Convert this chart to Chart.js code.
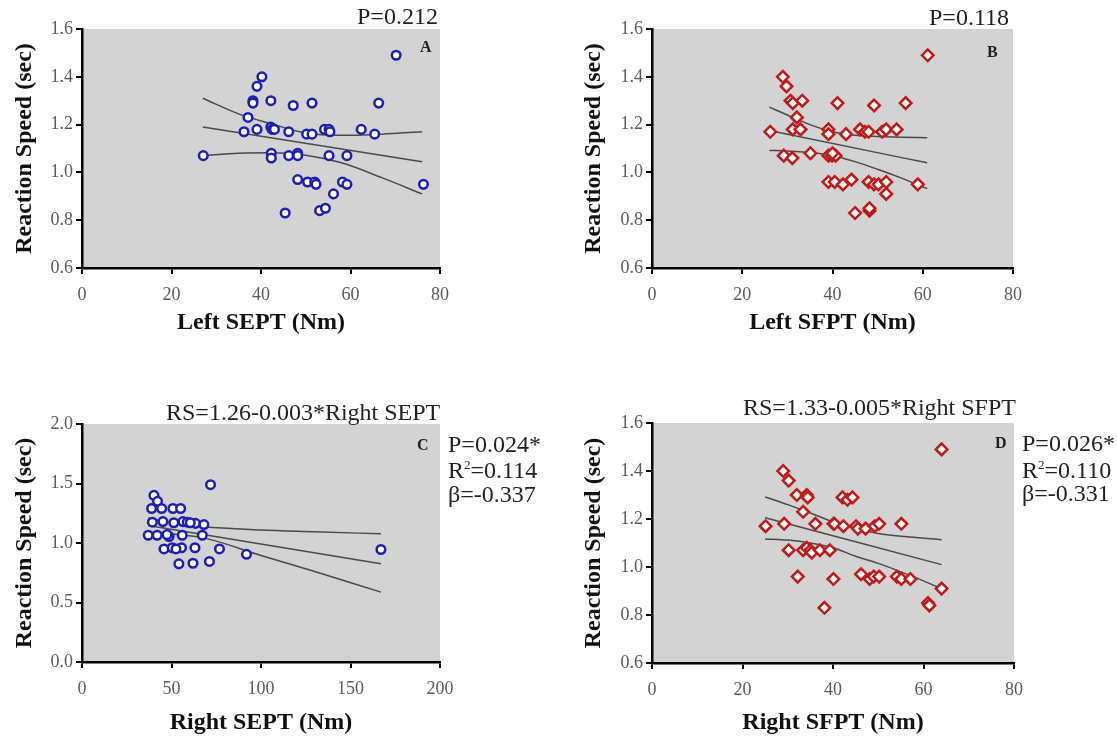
<!DOCTYPE html>
<html><head><meta charset="utf-8">
<script src="https://cdn.jsdelivr.net/npm/chart.js@4/dist/chart.umd.min.js"></script>
<style>
body{margin:0;background:#fff;width:1117px;height:742px;position:relative;overflow:hidden;}
canvas{position:absolute;}
.t{position:absolute;font-family:"Liberation Serif",serif;font-size:24px;color:#222;white-space:nowrap;line-height:1;}
.k{position:absolute;font-family:"Liberation Serif",serif;font-size:16px;font-weight:bold;color:#222;line-height:1;}
.sup{font-size:13px;position:relative;top:-9px;}
</style></head><body>
<canvas id="cA" width="558" height="345" style="left:0;top:0"></canvas>
<canvas id="cB" width="559" height="345" style="left:558px;top:0"></canvas>
<canvas id="cC" width="558" height="371" style="left:0;top:371px"></canvas>
<canvas id="cD" width="559" height="371" style="left:558px;top:371px"></canvas>

<div class="t" style="left:357px;top:4px">P=0.212</div>
<div class="k" style="left:420px;top:39px">A</div>
<div class="t" style="left:929px;top:5px">P=0.118</div>
<div class="k" style="left:987px;top:44px">B</div>
<div class="t" style="left:166px;top:400px">RS=1.26-0.003*Right SEPT</div>
<div class="k" style="left:417px;top:437px">C</div>
<div class="t" style="left:448px;top:432px">P=0.024*</div>
<div class="t" style="left:448px;top:458px">R<span class="sup">2</span>=0.114</div>
<div class="t" style="left:448px;top:482px">β=-0.337</div>
<div class="t" style="left:743px;top:395px">RS=1.33-0.005*Right SFPT</div>
<div class="k" style="left:995px;top:435px">D</div>
<div class="t" style="left:1022px;top:431px">P=0.026*</div>
<div class="t" style="left:1022px;top:458px">R<span class="sup">2</span>=0.110</div>
<div class="t" style="left:1022px;top:481px">β=-0.331</div>

<script>
// ---------- Panel A: Left SEPT ----------
const aX = [27.1,36.2,37.1,38.2,38.2,39.1,40.2,39.1,42.2,42.2,42.5,43.0,42.3,42.3,46.2,46.2,47.2,48.2,48.2,48.2,45.4,50.2,51.4,51.4,50.4,52.0,52.3,53.1,54.4,54.2,55.2,55.4,55.2,56.2,58.2,59.2,59.2,62.4,65.4,66.3,70.2,76.3];
const aY = [1.07,1.17,1.23,1.30,1.29,1.36,1.40,1.18,1.30,1.19,1.18,1.18,1.08,1.06,1.17,1.07,1.28,1.08,1.07,0.97,0.83,1.16,1.16,1.29,0.96,0.96,0.95,0.84,0.85,1.18,1.18,1.17,1.07,0.91,0.96,0.95,1.07,1.18,1.16,1.29,1.49,0.95];
const aFitX = [27, 76];
const aFitY = [1.19, 1.045];
const aBandX = [27, 35, 42, 50, 58, 67, 76];
const aUpY = [1.31, 1.245, 1.205, 1.165, 1.155, 1.16, 1.17];
const aLoY = [1.07, 1.08, 1.082, 1.072, 1.04, 0.978, 0.91];

// ---------- Panel B: Left SFPT ----------
const bX = [26.2,29.0,29.8,29.2,31.1,30.7,31.2,33.3,32.1,31.2,32.9,35.1,39.1,39.1,39.1,39.9,40.7,40.0,41.1,39.1,40.5,42.3,43.0,44.2,45.0,46.1,47.2,48.0,48.0,48.2,48.2,49.2,49.2,50.2,51.0,51.9,51.9,51.9,54.2,56.2,58.9,61.1];
const bY = [1.17,1.40,1.36,1.07,1.06,1.30,1.29,1.30,1.23,1.18,1.18,1.08,1.18,1.16,1.07,1.07,1.07,1.08,1.29,0.96,0.96,0.95,1.16,0.97,0.83,1.18,1.17,1.17,0.96,0.84,0.85,1.28,0.95,0.95,1.17,1.18,0.96,0.91,1.18,1.29,0.95,1.49];
const bFitX = [26, 61];
const bFitY = [1.175, 1.04];
const bBandX = [26, 30, 35, 40, 45, 50, 55, 61];
const bUpY = [1.273, 1.24, 1.20, 1.17, 1.155, 1.15, 1.147, 1.145];
const bLoY = [1.092, 1.09, 1.083, 1.07, 1.045, 1.013, 0.978, 0.932];

// ---------- Panel C: Right SEPT ----------
const cX = [40.2,42.2,38.9,44.5,50.8,55.1,39.3,45.2,51.3,56.4,58.8,63.4,68.1,37.0,42.0,48.6,56.0,67.2,45.8,50.4,55.6,63.1,76.8,91.9,54.1,62.0,71.2,71.8,167,47.5,60.5,52.5];
const cY = [1.40,1.35,1.29,1.29,1.29,1.29,1.175,1.18,1.17,1.18,1.175,1.165,1.155,1.065,1.065,1.055,1.065,1.065,0.95,0.96,0.96,0.96,0.95,0.905,0.825,0.83,0.845,1.49,0.945,1.07,1.17,0.95];
const cFitX = [37, 167];
const cFitY = [1.148, 0.825];
const cBandX = [37, 50, 68, 100, 130, 167];
const cUpY = [1.21, 1.17, 1.136, 1.11, 1.095, 1.077];
const cLoY = [1.09, 1.075, 1.043, 0.895, 0.76, 0.587];

// ---------- Panel D: Right SFPT ----------
const dX = [25.1,29.0,30.2,29.2,30.2,32.0,34.2,34.4,33.4,32.2,33.4,34.2,35.0,35.3,36.1,37.1,38.1,39.3,40.1,40.3,40.1,42.1,43.2,44.3,42.3,45.1,45.5,46.2,47.2,48.1,49.2,50.2,49.0,50.2,55.1,54.1,55.1,57.1,61.0,61.3,64.0,64.0];
const dY = [1.17,1.40,1.36,1.18,1.07,1.30,1.30,1.29,1.23,0.96,1.07,1.08,1.07,1.06,1.18,1.07,0.83,1.07,1.18,1.18,0.95,1.29,1.28,1.29,1.17,1.17,1.16,0.97,1.16,0.95,1.17,1.18,0.96,0.96,1.18,0.96,0.95,0.95,0.85,0.84,1.49,0.91];
const dFitX = [25, 64];
const dFitY = [1.205, 1.01];
const dBandX = [25, 30, 35, 40, 45, 50, 57, 64];
const dUpY = [1.292, 1.26, 1.225, 1.188, 1.16, 1.14, 1.125, 1.114];
const dLoY = [1.117, 1.112, 1.10, 1.08, 1.045, 1.015, 0.965, 0.91];

// ---------- tick labels ----------
const ticks80 = [0, 20, 40, 60, 80];
const ticks200 = [0, 50, 100, 150, 200];
const ticksRS16 = [0.6, 0.8, 1.0, 1.2, 1.4, 1.6];
const ticksRS20 = [0.0, 0.5, 1.0, 1.5, 2.0];

const yTitle = 'Reaction Speed (sec)';

const pts = (xs, ys) => xs.map((x, i) => ({x: x, y: ys[i]}));

const bgPlugin = {
  id: 'bg',
  beforeDraw(chart) {
    const {ctx, chartArea: a} = chart;
    ctx.save();
    ctx.fillStyle = '#d3d3d3';
    ctx.fillRect(a.left, a.top, a.right - a.left, a.bottom - a.top);
    ctx.restore();
  }
};

function lineDs(xs, ys) {
  return {type: 'scatter', data: pts(xs, ys), showLine: true, pointRadius: 0,
    borderColor: '#4a4a4a', borderWidth: 1.5, cubicInterpolationMode: 'monotone', fill: false};
}

function panel(o) {
  const tickFont = {family: '"Liberation Serif", serif', size: 18};
  const titleFont = {family: '"Liberation Serif", serif', size: 24, weight: 'bold'};
  new Chart(document.getElementById(o.id), {
    type: 'scatter',
    data: {
      datasets: [
        {data: pts(o.xs, o.ys), pointStyle: o.style, pointRadius: o.r, pointHoverRadius: o.r,
         borderColor: o.color, backgroundColor: '#ffffff', pointBorderWidth: 2.5, borderWidth: 2.5},
        lineDs(o.fitX, o.fitY),
        lineDs(o.bandX, o.upY),
        lineDs(o.bandX, o.loY)
      ]
    },
    options: {
      responsive: false, animation: false, devicePixelRatio: 1,
      layout: {padding: o.pad},
      plugins: {legend: {display: false}, tooltip: {enabled: false}},
      scales: {
        x: {
          type: 'linear', min: o.xTicks[0], max: o.xTicks[o.xTicks.length - 1],
          afterBuildTicks: s => { s.ticks = o.xTicks.map(v => ({value: v})); },
          afterFit: s => { s.height = o.xH; },
          grid: {drawOnChartArea: false, drawTicks: true, tickLength: 6, color: '#000', lineWidth: 2},
          border: {display: true, color: '#000', width: 2.5},
          ticks: {font: tickFont, color: '#5a5a5a', padding: 10, maxRotation: 0,
                  callback: v => String(v)},
          title: {display: true, text: o.xTitle, font: titleFont, color: '#111',
                  padding: {top: 0, bottom: o.xTitlePad}}
        },
        y: {
          type: 'linear', min: o.yTicks[0], max: o.yTicks[o.yTicks.length - 1],
          afterBuildTicks: s => { s.ticks = o.yTicks.map(v => ({value: v})); },
          afterFit: s => { s.width = o.yW; },
          grid: {drawOnChartArea: false, drawTicks: true, tickLength: 6, color: '#000', lineWidth: 2},
          border: {display: true, color: '#000', width: 2.5},
          ticks: {font: tickFont, color: '#5a5a5a', padding: 3, callback: v => Number(v).toFixed(1)},
          title: {display: true, text: yTitle, font: titleFont, color: '#111',
                  padding: {top: o.yTitlePad, bottom: 0}}
        }
      }
    },
    plugins: [bgPlugin]
  });
}

panel({id: 'cA', xs: aX, ys: aY, fitX: aFitX, fitY: aFitY, bandX: aBandX, upY: aUpY, loY: aLoY,
  xTicks: ticks80, yTicks: ticksRS16, xTitle: 'Left SEPT (Nm)', color: '#1e1eb0', style: 'circle', r: 4.3,
  pad: {left: 0, top: 29, right: 118, bottom: 0}, yW: 82, xH: 77, xTitlePad: 8, yTitlePad: 10});

panel({id: 'cB', xs: bX, ys: bY, fitX: bFitX, fitY: bFitY, bandX: bBandX, upY: bUpY, loY: bLoY,
  xTicks: ticks80, yTicks: ticksRS16, xTitle: 'Left SFPT (Nm)', color: '#be1a1a', style: 'rectRot', r: 5.8,
  pad: {left: 0, top: 29, right: 104, bottom: 0}, yW: 94, xH: 77, xTitlePad: 8, yTitlePad: 21});

panel({id: 'cC', xs: cX, ys: cY, fitX: cFitX, fitY: cFitY, bandX: cBandX, upY: cUpY, loY: cLoY,
  xTicks: ticks200, yTicks: ticksRS20, xTitle: 'Right SEPT (Nm)', color: '#1e1eb0', style: 'circle', r: 4.3,
  pad: {left: 0, top: 53, right: 118, bottom: 0}, yW: 82, xH: 80, xTitlePad: 5, yTitlePad: 10});

panel({id: 'cD', xs: dX, ys: dY, fitX: dFitX, fitY: dFitY, bandX: dBandX, upY: dUpY, loY: dLoY,
  xTicks: ticks80, yTicks: ticksRS16, xTitle: 'Right SFPT (Nm)', color: '#be1a1a', style: 'rectRot', r: 5.8,
  pad: {left: 0, top: 52, right: 103, bottom: 0}, yW: 94, xH: 79, xTitlePad: 5, yTitlePad: 21});
</script>
</body></html>
